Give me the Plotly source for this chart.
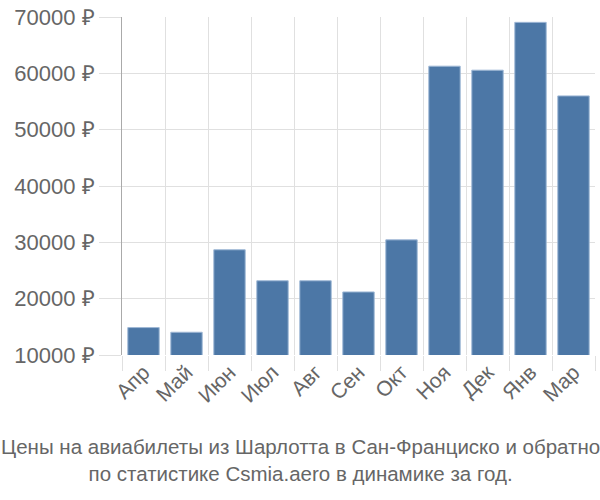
import plotly.graph_objects as go

months = ["Апр", "Май", "Июн", "Июл", "Авг", "Сен", "Окт", "Ноя", "Дек", "Янв", "Мар"]
prices = [14870, 14040, 28680, 23180, 23180, 21190, 30440, 61270, 60560, 69050, 55990]
y_ticks = [10000, 20000, 30000, 40000, 50000, 60000, 70000]
y_tick_text = [f"{v} ₽" for v in y_ticks]
title_lines = ["Цены на авиабилеты из Шарлотта в Сан-Франциско и обратно",
               "по статистике Csmia.aero в динамике за год."]

L, R = 122, 5
W = 600
fig = go.Figure(go.Bar(
    x=months, y=prices,
    marker=dict(color="#4c77a6", line=dict(color="#9fb8d6", width=1)),
))

fig.update_layout(
    width=W, height=500,
    margin=dict(l=L, r=R, t=14, b=145),
    plot_bgcolor="white", paper_bgcolor="white",
    bargap=0.27,
    showlegend=False,
    font=dict(family="Liberation Sans, Arial, sans-serif", color="#666666"),
)
fig.update_xaxes(
    type="category", tickson="boundaries",
    showgrid=True, gridcolor="#e0e0e0", gridwidth=1,
    ticks="outside", ticklen=15, tickcolor="#e0e0e0",
    tickangle=-45, tickfont=dict(size=21, color="#666666"),
    showline=False, zeroline=False,
)
fig.update_yaxes(
    range=[10000, 70000],
    tickvals=y_ticks, ticktext=y_tick_text,
    showgrid=True, gridcolor="#e0e0e0", gridwidth=1,
    ticks="outside", ticklen=22, tickcolor="#e0e0e0",
    tickfont=dict(size=22, color="#666666"),
    showline=True, linecolor="#aaaaaa", linewidth=1,
    zeroline=False,
)
cx = (W / 2 - L) / (W - L - R)
fig.add_annotation(
    x=cx, y=0, xref="paper", yref="paper", xanchor="center", yanchor="top",
    yshift=-78, showarrow=False, align="center",
    text="<br>".join(title_lines),
    font=dict(size=20.5, color="#666666", family="Liberation Sans, Arial, sans-serif"),
)
fig.write_html("out.html")
